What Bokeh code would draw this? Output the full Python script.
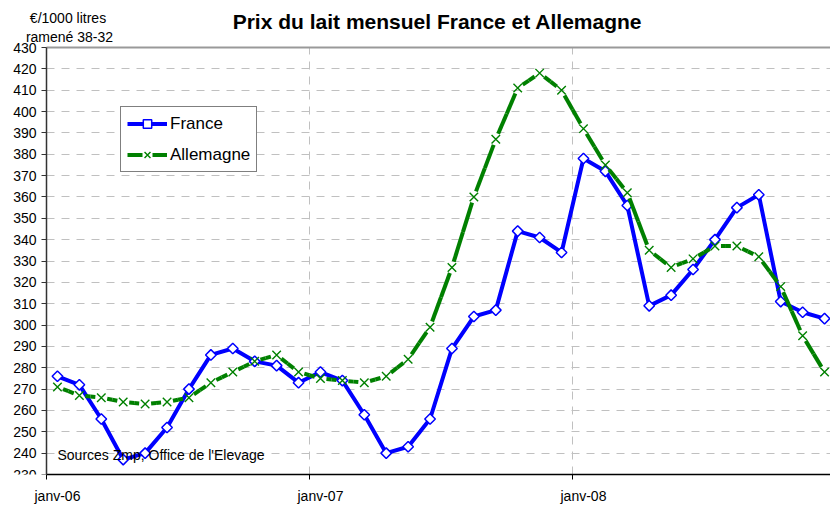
from bokeh.plotting import figure
from bokeh.models import Range1d, FixedTicker, Label, Grid, Legend, LegendItem
from bokeh.embed import file_html
from bokeh.resources import INLINE
import math

# ---- data ----
months = list(range(36))  # janv-06 .. déc-08
france = [276, 272, 256, 237, 240, 252, 270, 286, 289, 283, 281, 273,
          278, 274, 258, 240, 243, 256, 289, 304, 307, 344, 341, 334,
          378, 372, 356, 309, 314, 326, 340, 355, 361, 311, 306, 303]
germany = [271, 267, 266, 264, 263, 264, 266, 273, 278, 283, 286, 278,
           275, 274, 273, 276, 284, 299, 327, 360, 387, 411, 418, 410,
           392, 375, 362, 335, 327, 331, 337, 337, 332, 318, 295, 278]
year_labels = ["janv-06", "janv-07", "janv-08"]
year_pos = [0, 12, 24]
y_ticks = list(range(230, 431, 10))

FONT = "Liberation Sans"
BLUE = "#0000ff"
GREEN = "#008000"

# layout geometry (pixels)
W, H = 830, 507
AX_LEFT_PX = 46      # where the plot area starts
AX_TOP_PX = 47       # where the top value sits
BOTTOM_BORDER = 33
PX_PER_MONTH = 21.917

frame_h = H - BOTTOM_BORDER
y_lo, y_hi = y_ticks[0], y_ticks[-1]
px_per_unit = (frame_h - AX_TOP_PX) / (y_hi - y_lo)
y_end = y_hi + AX_TOP_PX / px_per_unit
x_lo = months[0] - 0.5
x_start = x_lo - AX_LEFT_PX / PX_PER_MONTH
x_end = x_start + W / PX_PER_MONTH

p = figure(width=W, height=H, output_backend="svg", toolbar_location=None,
           x_range=Range1d(x_start, x_end), y_range=Range1d(y_lo, y_end),
           min_border_left=0, min_border_right=0, min_border_top=0,
           min_border_bottom=BOTTOM_BORDER, background_fill_color="white",
           border_fill_color="white")
p.outline_line_color = None

# x axis
p.xaxis.ticker = FixedTicker(ticks=year_pos, minor_ticks=[b - 0.5 for b in year_pos])
p.xaxis.bounds = (x_lo, x_end)
p.xaxis.major_label_overrides = {k: v for k, v in zip(year_pos, year_labels)}
p.xaxis.major_tick_out = 0
p.xaxis.major_tick_in = 0
p.xaxis.minor_tick_out = 5
p.xaxis.minor_tick_in = 0
p.xaxis.minor_tick_line_color = "#000000"
p.xaxis.axis_line_color = "#000000"
p.xaxis.axis_line_width = 1.5
p.xaxis.major_label_standoff = 8
p.xaxis.major_label_text_font = FONT
p.xaxis.major_label_text_font_size = "14px"
p.xaxis.major_label_text_color = "#000000"

# y axis (drawn at the left edge of the plot area)
p.yaxis.fixed_location = x_lo
p.yaxis.bounds = (y_lo, y_hi)
p.yaxis.ticker = FixedTicker(ticks=y_ticks)
p.yaxis.major_tick_out = 5
p.yaxis.major_tick_in = 0
p.yaxis.minor_tick_line_color = None
p.yaxis.axis_line_color = "#333333"
p.yaxis.axis_line_width = 1.5
p.yaxis.major_tick_line_color = "#333333"
p.yaxis.major_label_standoff = 5
p.yaxis.major_label_text_font = FONT
p.yaxis.major_label_text_font_size = "14px"
p.yaxis.major_label_text_color = "#000000"

# grids
p.xgrid.ticker = FixedTicker(ticks=[b - 0.5 for b in year_pos[1:]])
p.xgrid.cross_bounds = (y_lo, y_hi)
p.ygrid.ticker = FixedTicker(ticks=y_ticks[1:-1])
p.ygrid.cross_bounds = (x_lo, x_end)
for g in (p.xgrid, p.ygrid):
    g.grid_line_color = "#c0c0c0"
    g.grid_line_dash = "8 7"
    g.grid_line_width = 1

top_border = Grid(dimension=1, ticker=FixedTicker(ticks=[y_hi]),
                  cross_bounds=(x_lo, x_end), grid_line_color="#999999",
                  grid_line_width=2)
p.add_layout(top_border)

# ---- series ----
# France: solid line + white diamonds
fr_line = p.line(months, france, line_color=BLUE, line_width=4)
fr_pts = p.scatter(months, france, marker="square", angle=math.pi / 4, size=7.5,
                   fill_color="white", line_color=BLUE, line_width=1.5)

# Allemagne: each month-to-month segment is dashed from its end points
# (gap at each marker, solid towards the middle), as in the original.
mid_x = [(a + b) / 2 for a, b in zip(months[:-1], months[1:])]
mid_y = [(a + b) / 2 for a, b in zip(germany[:-1], germany[1:])]
p.segment(x0=months[:-1] + months[1:], y0=germany[:-1] + germany[1:],
          x1=mid_x + mid_x, y1=mid_y + mid_y,
          line_color=GREEN, line_width=4, line_dash="1000 6",
          line_dash_offset=1000)
# legend proxy (draws nothing in the plot area)
de_legend_line = p.line(x=[float("nan")], y=[float("nan")], line_color=GREEN,
                        line_width=4, line_dash="15 10")
de_pts = p.scatter(months, germany, marker="x", size=12, line_color=GREEN,
                   line_width=1.4)

# legend (bottom-left corner, pixels from the bottom-left of the plot frame)
lg = Legend(items=[LegendItem(label="France", renderers=[fr_line, fr_pts]),
                   LegendItem(label="Allemagne", renderers=[de_legend_line, de_pts])])
lg.location = (120, frame_h - 172)
lg.border_line_color = "#000000"
lg.border_line_width = 1
lg.padding = 6
lg.spacing = 10
lg.margin = 0
lg.glyph_width = 40
lg.glyph_height = 21
lg.label_height = 21
lg.label_standoff = 3
lg.label_text_font = FONT
lg.label_text_font_size = "17px"
lg.label_text_color = "#000000"
lg.background_fill_color = "white"
lg.background_fill_alpha = 1
p.add_layout(lg)

# texts (screen pixels from bottom-left of frame; y = centre of the caps)
p.add_layout(Label(x=437, y=frame_h - 21, x_units="screen", y_units="screen",
                   text="Prix du lait mensuel France et Allemagne",
                   text_align="center", text_baseline="middle",
                   text_font=FONT, text_font_style="bold",
                   text_font_size="21px", text_color="#000000"))
p.add_layout(Label(x=67.5, y=frame_h - 17, x_units="screen", y_units="screen",
                   text="€/1000 litres", text_align="center",
                   text_baseline="middle", text_font=FONT,
                   text_font_size="14px", text_color="#000000"))
p.add_layout(Label(x=69, y=frame_h - 36.5, x_units="screen", y_units="screen",
                   text="ramené 38-32", text_align="center",
                   text_baseline="middle", text_font=FONT,
                   text_font_size="14px", text_color="#000000"))
p.add_layout(Label(x=57, y=frame_h - 454, x_units="screen", y_units="screen",
                   text="Sources Zmp, Office de l'Elevage", text_align="left",
                   text_baseline="middle", text_font=FONT,
                   text_font_size="14px", text_color="#000000"))

open("out.html", "w").write(file_html(p, INLINE))
